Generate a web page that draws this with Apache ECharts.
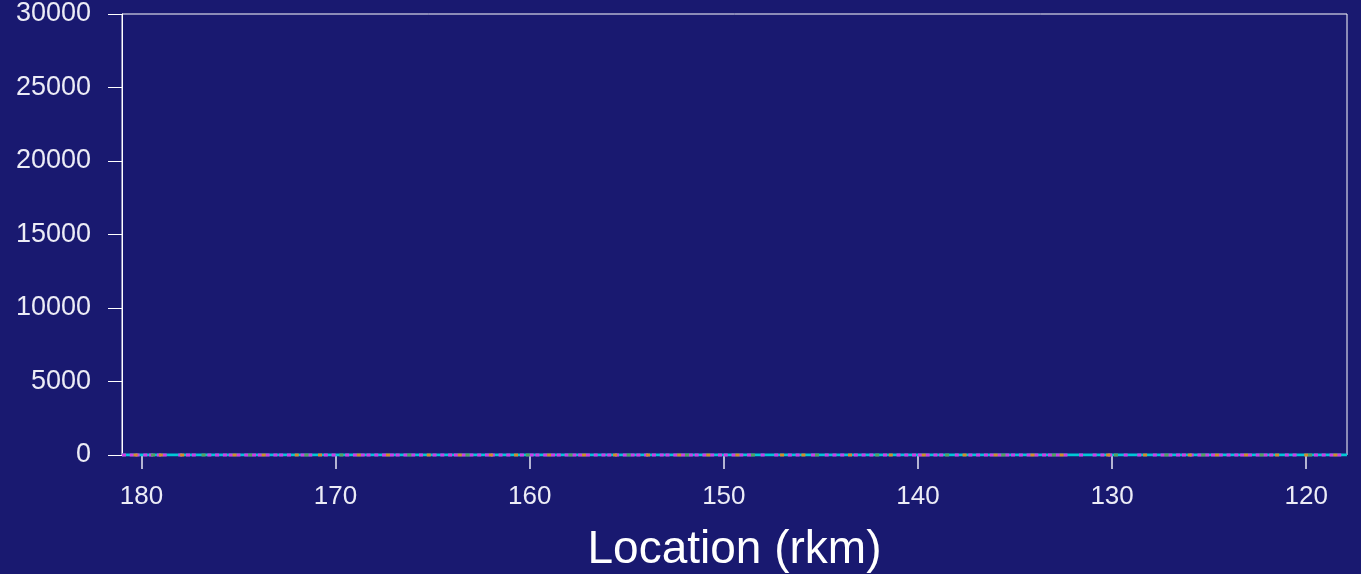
<!DOCTYPE html>
<html>
<head>
<meta charset="utf-8">
<script src="https://cdn.jsdelivr.net/npm/echarts@6/dist/echarts.min.js"></script>
<style>
html,body{margin:0;padding:0;background:#191970;}
#chart{width:1361px;height:574px;}
</style>
</head>
<body>
<div id="chart"></div>
<script>
// x-axis tick labels (river km, axis reversed)
const xTicks = [180, 170, 160, 150, 140, 130, 120];
const xMin = 117.9, xMax = 181.0;
// all series sit at zero count
const cyanRkm = [181.0, 175.0, 170.0, 165.0, 160.0, 155.0, 150.0, 145.0, 140.0, 135.0, 130.0, 125.0, 120.0, 117.9];
const cyanVal = [0, 0, 0, 0, 0, 0, 0, 0, 0, 0, 0, 0, 0, 0];
const magentaRkm = [180.9,180.5,180.2,179.8,179.5,179.1,178.8,178.0,177.6,177.3,176.5,176.1,175.7,175.4,175.0,174.6,174.2,173.9,173.5,173.1,172.8,172.4,171.7,171.3,170.5,170.1,169.4,169.0,168.6,168.3,167.9,167.5,167.1,166.8,166.4,166.0,165.6,164.9,164.5,164.1,163.8,163.4,163.0,162.6,162.2,161.9,161.5,161.1,160.4,159.9,159.6,159.2,158.8,158.5,158.1,157.7,157.4,157.0,156.6,156.2,155.9,155.5,155.1,154.7,154.4,154.0,153.6,153.2,152.9,152.5,152.1,151.7,151.4,151.0,150.6,150.2,149.9,149.5,149.1,148.7,148.0,147.3,146.6,146.2,145.4,144.7,144.3,143.9,143.2,142.8,142.4,141.7,141.0,140.6,140.2,139.9,139.5,139.1,138.8,138.0,137.3,136.9,136.5,136.2,135.8,135.4,135.1,134.7,134.3,133.9,133.5,133.2,132.8,132.4,131.6,130.9,130.5,130.1,129.3,128.6,127.8,127.4,127.0,126.6,126.3,125.9,125.5,125.1,124.8,124.4,124.0,123.6,123.3,122.9,122.5,122.1,121.8,121.0,120.6,119.5,119.1,118.7,118.3];
const orangeRkm = [180.3,179.0,177.9,175.2,173.7,172.0,170.8,168.8,167.3,165.2,163.6,162.0,160.7,159.0,157.2,155.6,153.9,152.3,150.8,149.3,147.0,145.9,143.5,141.4,139.7,137.6,136.0,134.1,132.6,130.2,128.3,126.0,124.6,123.1,121.5,120.0,118.5];
const greenRkm = [179.4,176.8,174.4,171.5,169.7,166.2,163.2,160.1,157.9,154.9,151.9,148.5,145.2,142.1,138.5,135.6,133.0,129.8,127.2,125.3,122.3,119.8];
const yMin = 0, yMax = 30000, yStep = 5000;

const zeroPairs = arr => arr.map(x => [x, 0]);

const chart = echarts.init(document.getElementById('chart'), null, {renderer: 'canvas'});
const fontFam = '"Liberation Sans", Arial, sans-serif';
const txt = '#ececf6';
chart.setOption({
  backgroundColor: '#191970',
  animation: false,
  grid: {left: 122, right: 14, top: 14, bottom: 119, show: true, borderColor: '#ffffff', borderWidth: 1, backgroundColor: 'transparent', containLabel: false, outerBoundsMode: 'none'},
  xAxis: {
    type: 'value', min: xMin, max: xMax, inverse: true,
    name: 'Location (rkm)', nameLocation: 'middle', nameGap: 72,
    nameTextStyle: {color: '#ffffff', fontSize: 46, fontFamily: fontFam},
    axisLine: {show: false},
    axisTick: {show: true, length: 14, inside: false, customValues: xTicks, lineStyle: {color: '#e8e8f4', width: 1.5}},
    axisLabel: {customValues: xTicks, color: txt, fontSize: 26, fontFamily: fontFam, margin: 29},
    splitLine: {show: false}
  },
  yAxis: {
    type: 'value', min: yMin, max: yMax, interval: yStep,
    axisLine: {show: true, lineStyle: {color: '#ffffff', width: 1}},
    axisTick: {show: true, length: 14, lineStyle: {color: '#ffffff', width: 1}},
    axisLabel: {color: txt, fontSize: 27, fontFamily: fontFam, margin: 31, padding: [6, 0, 0, 0], formatter: v => String(v)},
    splitLine: {show: false}
  },
  series: [
    {type: 'line', data: cyanRkm.map((x, i) => [x, cyanVal[i]]), symbol: 'none', lineStyle: {color: '#00c8d6', width: 3}, z: 5},
    {type: 'scatter', data: zeroPairs(magentaRkm), symbol: 'rect', symbolSize: [4, 3], itemStyle: {color: '#d23ce6', opacity: 1}, z: 6},
    {type: 'scatter', data: zeroPairs(orangeRkm), symbol: 'rect', symbolSize: [4, 3], itemStyle: {color: '#d88a2a', opacity: 1}, z: 7},
    {type: 'scatter', data: zeroPairs(greenRkm), symbol: 'rect', symbolSize: [4, 3], itemStyle: {color: '#5aa060', opacity: 1}, z: 7}
  ]
});
</script>
</body>
</html>
